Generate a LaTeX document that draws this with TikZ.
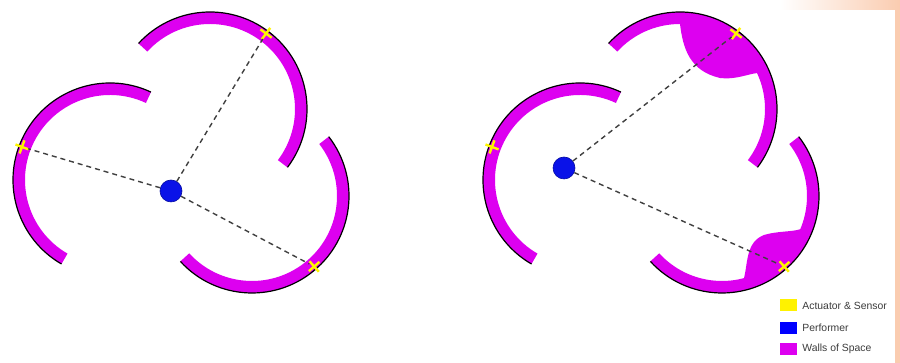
\documentclass[tikz,border=0pt]{standalone}
\usepackage{fontspec}
\setmainfont{Liberation Sans}
\definecolor{wallpink}{RGB}{221, 0, 240}
\definecolor{perfblue}{RGB}{10, 18, 232}
\definecolor{sensyellow}{RGB}{255, 245, 0}
\definecolor{peach}{RGB}{250, 204, 176}
\definecolor{keygray}{RGB}{60, 60, 60}
\usetikzlibrary{positioning, calc, shapes.misc}

\begin{document}
\begin{tikzpicture}[x=1pt, y=1pt,
    wallband/.style={fill=wallpink},
    walledge/.style={draw=black, line width=1.2pt},
    performer/.style={circle, fill=perfblue, draw=perfblue!70!black, line width=0.6pt, minimum size=22pt, inner sep=0pt},
    sensor/.style={cross out, draw=sensyellow, line width=2.4pt, minimum size=7.5pt, inner sep=0pt},
    link/.style={draw=black!75, line width=1.4pt, dash pattern=on 5pt off 4pt},
    keybox/.style={minimum width=17pt, minimum height=12pt, inner sep=0pt},
    keytext/.style={font=\fontsize{10.4}{12}\selectfont, text=keygray, inner sep=0pt}]
    \useasboundingbox (0,0) rectangle (900,363);
    \fill[white] (0,0) rectangle (900,363);
    \shade[left color=white, right color=peach] (780,353) rectangle (900,363);
    \fill[peach] (895,0) rectangle (900,353);

    % centres of the three walls, left and right room
    \coordinate (wallAL) at (110,183);
    \coordinate (wallBL) at (210,254);
    \coordinate (wallCL) at (252,167);
    \coordinate (wallAR) at (580,183);
    \coordinate (wallBR) at (680,254);
    \coordinate (wallCR) at (722,167);

    \foreach \s in {L,R} {
        \foreach \w/\from/\to in {A/65/240, B/-37/137.5, C/-137.6/37.7} {
            \begin{scope}[shift={(wall\w\s)}]
                \fill[wallband] (\from:97) arc[start angle=\from, end angle=\to, radius=97]
                    -- (\to:85) arc[start angle=\to, end angle=\from, radius=85] -- cycle;
                \draw[walledge] (\from:97) arc[start angle=\from, end angle=\to, radius=97];
            \end{scope}
        }
    }

    % walls pushed in round the sensors
    \begin{scope}[shift={(wallBR)}]
        \fill[wallband] (90:85) .. controls (3,60) and (10,38) .. (40,31)
            .. controls (55,29) and (68,35) .. (25:85)
            -- (25:95) arc[start angle=25, end angle=90, radius=95] -- cycle;
    \end{scope}
    \begin{scope}[shift={(wallCR)}]
        \fill[wallband] (-75:85) .. controls (26,-66) and (24,-46) .. (42,-39)
            .. controls (55,-35) and (70,-36) .. (-23:85)
            -- (-23:95) arc[start angle=-23, end angle=-75, radius=95] -- cycle;
    \end{scope}

    \node[performer] (perfL) at (171,172) {};
    \node[performer] (perfR) at (564,195) {};

    \foreach \s in {L,R}
        \foreach \w/\ang in {A/159.4, B/53.4, C/-48.6}
            \node[sensor, rotate=\ang+45] (sens\w\s) at ($(wall\w\s)+(\ang:94)$) {};

    \draw[link] (perfL) -- (sensAL);
    \draw[link] (perfL) -- (sensBL);
    \draw[link] (perfL) -- (sensCL);
    \draw[link] (perfR) -- (sensBR);
    \draw[link] (perfR) -- (sensCR);

    \node[keybox, fill=yellow] (keySens) at (788.5,57.5) {};
    \node[keybox, fill=blue, below=10pt of keySens] (keyPerf) {};
    \node[keybox, fill=wallpink, below=9pt of keyPerf] (keyWall) {};
    \node[keytext, right=5pt of keySens] {Actuator \& Sensor};
    \node[keytext, right=5pt of keyPerf] {Performer};
    \node[keytext, right=5pt of keyWall] {Walls of Space};
\end{tikzpicture}
\end{document}
